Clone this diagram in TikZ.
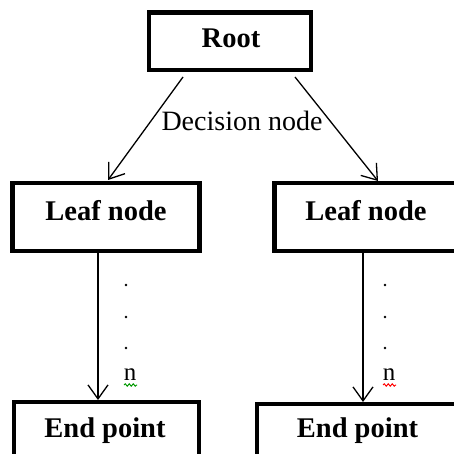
\documentclass[tikz,border=0pt]{standalone}
\usepackage{fontspec}
\setmainfont{Liberation Serif}
\usetikzlibrary{arrows.meta,decorations.pathmorphing}
\begin{document}
\begin{tikzpicture}[x=1pt,y=-1pt,
  box/.style={draw,line width=4.5pt,rectangle,inner sep=0pt},
  lbl/.style={font=\fontsize{28.5}{32}\selectfont\bfseries,anchor=base,inner sep=0pt},
  dlbl/.style={font=\fontsize{28}{32}\selectfont,anchor=base,inner sep=0pt},
  dotlbl/.style={font=\fontsize{25}{28}\selectfont,anchor=base,inner sep=0pt},
  conn/.style={line width=1.3pt,-{Straight Barb[length=14pt,width=20pt,line width=1.3pt]}},
  wavy/.style={decorate,decoration={snake,amplitude=1.2pt,segment length=4pt},line width=1pt}]
\clip (0,0) rectangle (454,454);
\fill[white] (0,0) rectangle (454,454);
% boxes
\node[box,minimum width=162pt,minimum height=57.5pt] (root) at (230,41.25) {};
\node[box,minimum width=187pt,minimum height=68pt] (leafL) at (106,217) {};
\node[box,minimum width=195.5pt,minimum height=68pt] (leafR) at (372.25,217) {};
\node[box,minimum width=185pt,minimum height=68pt] (endL) at (106.5,436) {};
\node[box,minimum width=213pt,minimum height=66pt] (endR) at (363.5,437) {};
% labels
\node[lbl] (troot) at (231,48) {Root};
\node[lbl] (tleafL) at (106,220) {Leaf node};
\node[lbl] (tleafR) at (366,220) {Leaf node};
\node[lbl] (tendL) at (105,437) {End point};
\node[lbl] (tendR) at (357.5,437) {End point};
\node[dlbl] (dec) at (242,131) {Decision node};
% connector ends
\coordinate (r1) at (183,77);
\coordinate (l1) at (108,180);
\coordinate (r2) at (295,77);
\coordinate (l2) at (378,181);
\coordinate (vl1) at (98,253);
\coordinate (vl2) at (98,400);
\coordinate (vr1) at (363,253);
\coordinate (vr2) at (363,402);
\draw[conn] (r1) -- (l1);
\draw[conn] (r2) -- (l2);
\draw[conn] (vl1) -- (vl2);
\draw[conn] (vr1) -- (vr2);
% dots and n
\foreach \yy in {285,317,348}{
  \fill (126,\yy) circle (1.3pt);
  \fill (385,\yy) circle (1.3pt);
}
\node[dotlbl] (nL) at (130,380) {n};
\node[dotlbl] (nR) at (389,380) {n};
\draw[wavy,green!60!black] (124,385) -- (137,385);
\draw[wavy,red] (383,385) -- (396,385);
\end{tikzpicture}
\end{document}
